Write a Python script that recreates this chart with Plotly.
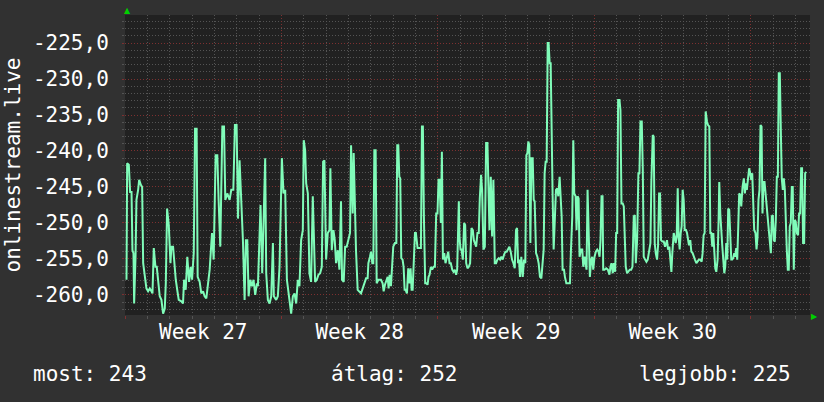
import pandas as pd
import plotly.graph_objects as go

# ---- data: ranking of onlinestream.live (hours since 2024-07-01 00:00, rank as negative value)
start = pd.Timestamp("2024-07-01 00:00")

hours_a = [1.6, 2.3, 4.1, 5.5, 7.0, 8.0, 9.1, 9.8, 11.3, 12.3, 14.1, 15.2, 17.0, 18.4, 19.5, 21.3, 23.0, 24.8, 26.6, 28.4,
           29.5, 30.9, 32.7, 34.1, 37.3, 39.1, 40.9, 42.7, 43.8, 45.2, 47.0, 48.8, 49.8, 51.6, 52.7, 54.5, 56.3, 57.7, 60.5, 62.3,
           63.4, 65.2, 66.9, 68.8, 70.5, 72.0, 73.8, 75.2, 76.9, 78.0, 80.2, 81.9, 83.8, 85.5, 87.3, 89.1, 90.9, 93.4, 95.2, 97.3,
           99.1, 100.5, 102.3, 104.5, 106.3, 107.7, 109.8, 112.3, 114.1, 116.3, 118.0, 119.8, 121.3, 123.0, 124.8, 126.6, 128.4, 129.8, 131.3, 132.7,
           134.5, 136.3, 138.0, 139.8, 141.6, 142.7, 145.5, 147.3, 149.1, 150.5, 151.6, 153.4, 155.2, 157.0, 158.8, 159.8, 162.3, 164.1, 165.9, 168.4,
           170.2, 172.0, 173.8, 175.5, 178.4, 180.2, 182.0, 183.8, 185.5, 187.3, 189.1, 190.9, 191.9, 193.4, 194.5, 196.3, 198.0, 199.8, 201.6, 202.7,
           204.1, 205.9, 207.7, 209.5, 211.3, 212.7, 214.1, 215.9, 217.7, 219.5, 220.5, 222.0, 223.8, 225.2, 226.6, 228.4, 230.2, 231.9, 233.0, 234.8,
           236.3, 238.0, 239.8, 241.6, 242.7, 244.5, 245.5, 246.9, 248.0, 249.8, 251.6, 253.4]
rank_a = [-257.9, -241.7, -241.9, -245.7, -245.7, -253.8, -254.2, -261.2, -254.7, -246.8, -245.4, -244.0, -244.7, -245.0, -255.6, -257.7, -259.1, -259.5, -259.1, -259.5,
          -259.8, -253.5, -256.1, -256.1, -260.2, -260.7, -262.6, -261.9, -258.4, -248.0, -250.3, -255.6, -253.3, -253.3, -255.6, -257.9, -259.5, -260.7, -260.9, -261.2,
          -257.9, -259.3, -254.7, -258.2, -256.1, -257.9, -254.2, -236.9, -236.9, -257.5, -258.2, -259.8, -259.5, -260.2, -260.5, -258.4, -256.5, -251.4, -255.1, -240.6,
          -240.6, -246.8, -253.3, -236.6, -236.6, -246.8, -245.9, -246.8, -245.4, -245.4, -236.4, -236.4, -249.4, -241.3, -246.8, -252.4, -260.7, -252.4, -252.4, -260.2,
          -257.9, -258.8, -257.9, -260.0, -258.4, -258.8, -247.5, -257.0, -248.2, -241.0, -257.0, -260.7, -261.2, -260.2, -252.8, -260.2, -260.7, -260.2, -256.1, -241.0,
          -245.9, -245.4, -257.9, -259.8, -262.6, -260.2, -259.8, -261.2, -257.9, -258.8, -252.4, -251.0, -238.5, -239.9, -244.5, -245.9, -257.0, -258.2, -246.3, -251.4,
          -258.2, -257.9, -257.2, -257.0, -256.1, -241.5, -241.3, -255.1, -251.4, -251.0, -242.4, -253.8, -251.0, -252.4, -255.6, -253.8, -256.5, -247.0, -257.9, -258.2,
          -253.3, -253.3, -252.4, -251.4, -239.2, -248.7, -240.3, -248.7, -253.8, -259.3, -259.5, -259.8]

hours_b = [257.0, 258.8, 260.5, 261.3, 263.0, 264.1, 265.5, 266.6, 267.7, 269.1, 270.2, 272.0, 273.8, 274.8, 276.6, 277.7, 279.1, 280.9, 282.0, 283.0,
           284.1, 285.5, 286.6, 288.0, 289.8, 291.3, 292.3, 293.4, 294.5, 295.5, 296.6, 298.0, 299.1, 300.2, 301.3, 302.7, 304.1, 305.5, 306.6, 307.7,
           308.8, 309.8, 311.3, 312.3, 314.1, 315.9, 317.7, 318.8, 319.8, 320.9, 322.3, 323.8, 324.8, 325.9, 327.0, 328.4, 329.8, 331.3, 332.7, 334.1,
           335.5, 336.6, 337.7, 339.1, 340.2, 341.3, 342.7, 344.1, 345.5, 347.0, 348.4, 349.8, 351.3, 352.7, 354.1, 355.5, 356.6, 357.7, 358.4, 359.1,
           360.2, 361.3, 362.7, 364.1, 365.2, 366.3, 367.7, 369.1, 370.5, 372.0, 373.4, 374.5, 375.9, 377.0, 378.4, 379.8, 380.9, 382.3, 383.4, 384.8,
           386.3, 387.7, 389.1, 390.2, 391.3, 392.7, 394.1, 395.5, 397.0, 398.4, 399.8, 401.3, 402.7, 404.1, 405.5, 407.0, 408.4, 409.8, 411.3, 412.7,
           414.1, 415.5, 417.0, 418.4, 419.8, 420.9, 422.0, 423.0, 424.1, 425.5, 427.0, 428.4, 429.8, 430.9, 432.0, 433.0, 434.1, 435.2, 436.3, 437.7,
           438.8, 439.8, 441.3, 442.7, 444.1, 445.5, 447.0, 448.4, 449.5, 450.5, 451.6, 452.7, 453.8, 454.8, 455.9, 457.0, 458.0, 459.1, 460.2, 461.3,
           462.7, 464.1, 465.2, 466.6, 467.7, 468.8, 469.8, 471.3, 472.3, 473.8, 475.2, 476.6, 477.7, 478.8, 480.2, 481.3, 482.3, 483.8, 484.8, 485.9,
           487.0, 488.0, 489.5, 490.9, 492.0, 493.4, 494.5, 495.5, 496.6, 497.7, 499.1, 500.5, 501.6, 502.7, 504.1, 505.5, 507.0, 508.4, 509.5, 510.5,
           511.6, 512.7]
rank_b = [-258.4, -257.7, -257.7, -255.6, -254.7, -254.0, -255.6, -255.6, -239.9, -239.9, -258.4, -257.9, -257.9, -257.9, -258.4, -259.5, -258.6, -257.9, -257.5, -259.1,
          -257.2, -258.8, -256.3, -253.3, -252.8, -252.8, -239.2, -239.2, -243.6, -243.8, -254.9, -255.1, -256.1, -259.3, -259.3, -259.8, -256.3, -258.4, -256.3, -259.3,
          -259.3, -254.7, -251.4, -251.4, -253.5, -253.5, -253.5, -236.6, -236.6, -249.1, -258.4, -258.4, -258.6, -257.5, -257.2, -256.1, -256.5, -256.1, -256.1, -248.7,
          -248.7, -244.0, -244.0, -250.0, -240.1, -255.1, -254.2, -255.6, -254.7, -254.0, -255.6, -255.6, -256.5, -256.8, -256.5, -257.2, -256.5, -251.0, -247.0, -251.9,
          -253.7, -253.7, -255.1, -250.0, -250.3, -255.6, -256.3, -256.1, -255.6, -250.7, -251.0, -252.4, -252.8, -253.3, -251.4, -251.4, -246.6, -243.3, -245.4, -253.7,
          -253.3, -238.9, -238.9, -247.3, -251.0, -243.6, -251.9, -244.0, -255.6, -255.6, -255.1, -254.9, -255.1, -254.7, -255.1, -254.4, -254.0, -254.0, -253.5, -253.3,
          -254.0, -255.1, -255.6, -256.3, -251.0, -250.7, -255.6, -255.1, -257.5, -254.7, -257.5, -255.1, -255.6, -240.6, -240.3, -238.7, -239.2, -252.8, -241.0, -241.0,
          -246.8, -247.0, -254.2, -254.7, -255.6, -257.5, -257.7, -255.6, -253.7, -243.1, -241.5, -241.5, -225.0, -225.0, -227.8, -227.8, -239.9, -246.3, -253.7, -249.1,
          -245.4, -245.2, -246.3, -243.6, -246.3, -249.1, -256.5, -256.5, -257.5, -258.4, -258.4, -258.4, -258.4, -253.7, -249.1, -238.5, -245.9, -246.3, -251.0, -246.3,
          -246.6, -254.7, -253.7, -253.7, -256.1, -254.7, -255.6, -256.5, -245.4, -250.0, -257.5, -255.1, -254.7, -256.5, -254.7, -254.0, -253.7, -254.0, -254.7, -252.4,
          -246.3, -246.3]

hours_c = [513.4, 514.8, 516.6, 518.4, 520.1, 521.2, 522.3, 523.7, 524.8, 526.2, 527.3, 528.4, 529.4, 530.9, 531.9, 533.0, 534.4, 535.5, 536.6, 537.6,
           539.1, 540.5, 541.9, 543.4, 544.8, 546.2, 547.3, 548.4, 549.8, 551.2, 552.3, 553.4, 554.8, 555.9, 556.9, 558.4, 559.8, 561.2, 562.6, 564.1,
           565.1, 566.6, 567.6, 568.7, 569.8, 571.2, 572.3, 573.4, 574.4, 575.5, 576.9, 578.4, 579.8, 580.9, 581.9, 583.0, 584.4, 585.5, 586.6, 587.6,
           589.1, 590.1, 591.2, 592.3, 593.4, 594.4, 595.5, 596.6, 597.6, 598.7, 599.8, 600.9, 602.3, 603.4, 604.4, 605.5, 606.9, 608.0, 609.4, 610.5,
           611.9, 613.4, 614.8, 616.2, 617.6, 619.1, 620.1, 621.2, 622.3, 623.4, 624.8, 625.9, 627.3, 628.4, 629.4, 630.5, 631.6, 632.6, 633.7, 634.8,
           636.2, 637.3, 638.0, 639.1, 640.1, 641.2, 642.3, 643.4, 644.4, 645.5, 646.6, 647.6, 648.7, 649.8, 650.9, 651.9, 653.0, 654.1, 655.1, 656.2,
           657.3, 658.4, 659.4, 660.5, 661.6, 663.0, 664.4, 665.5, 666.6, 667.6, 668.7, 670.1, 671.2, 672.3, 673.4, 674.4, 675.5, 676.9, 678.0, 679.1,
           680.1, 681.2, 682.3, 683.4, 684.4, 685.5, 686.6, 693.4, 694.4, 695.5, 696.6, 697.6, 698.7, 699.8, 700.9, 701.9, 703.0, 704.1, 705.1, 706.2,
           707.3, 708.4, 709.4, 710.5, 711.6, 712.6, 713.7, 714.8, 715.9, 716.9, 718.0, 719.1, 720.1, 721.2, 722.6, 723.7, 724.8, 725.9, 726.9, 728.0,
           729.1, 730.2, 731.3]
rank_c = [-256.5, -256.5, -256.3, -256.5, -257.2, -256.1, -255.6, -257.0, -255.6, -256.8, -251.4, -251.4, -232.9, -232.9, -234.3, -247.3, -247.3, -247.7, -251.4, -256.1,
          -257.0, -256.8, -256.5, -256.5, -256.1, -249.1, -248.9, -255.6, -252.4, -243.1, -243.1, -235.9, -235.9, -242.6, -254.7, -255.1, -255.4, -255.1, -254.2, -252.8,
          -244.3, -237.8, -238.0, -252.8, -254.2, -255.1, -253.1, -245.9, -245.9, -252.4, -252.6, -252.6, -253.3, -252.8, -252.4, -253.7, -253.3, -255.1, -256.8, -254.2,
          -251.4, -251.9, -252.8, -251.9, -245.2, -251.9, -253.7, -251.4, -250.5, -245.4, -246.8, -251.0, -251.0, -251.4, -252.4, -253.1, -252.4, -254.0, -254.2, -254.7,
          -255.1, -255.6, -255.4, -255.1, -255.1, -255.4, -254.2, -251.7, -251.4, -234.5, -235.9, -236.4, -236.6, -251.4, -251.4, -253.3, -251.4, -254.7, -256.3, -256.8,
          -255.1, -249.6, -244.3, -248.7, -251.4, -253.1, -255.1, -257.0, -256.1, -252.8, -255.1, -248.0, -248.2, -253.3, -255.1, -255.1, -254.9, -254.2, -254.7, -253.5,
          -255.1, -250.5, -245.9, -246.1, -247.7, -245.0, -243.8, -245.9, -244.5, -245.4, -243.8, -242.4, -243.1, -244.0, -243.1, -245.9, -251.0, -251.4, -253.7, -251.9,
          -246.8, -245.4, -236.4, -236.6, -248.7, -244.3, -244.3, -254.2, -249.1, -248.9, -252.4, -252.6, -249.6, -243.6, -243.6, -229.2, -229.2, -237.1, -243.8, -245.4,
          -243.8, -245.4, -251.4, -253.7, -256.5, -256.5, -250.5, -250.0, -245.0, -245.0, -256.5, -249.6, -249.8, -251.4, -251.7, -248.7, -248.7, -242.4, -242.4, -252.8,
          -252.8, -243.1, -242.9]

for h, r in ((hours_a, rank_a), (hours_b, rank_b), (hours_c, rank_c)):
    assert len(h) == len(r), (len(h), len(r))

hours = hours_a + hours_b + hours_c
rank = rank_a + rank_b + rank_c
times = start + pd.to_timedelta(hours, unit="h")

y_tick_values = [-260, -255, -250, -245, -240, -235, -230, -225]
y_tick_text = [f"{v:.1f}".replace(".", ",") for v in y_tick_values]
y_range = [-262.8, -221.1]
x_range = ["2024-07-01 00:00", "2024-07-31 15:25"]

series_name = "onlinestream.live"
summary_names = ["most", "átlag", "legjobb"]
summary_values = [243, 252, 225]

# ---- styling
FONT = "DejaVu Sans Mono"
BG = "#313131"
CANVAS = "#212121"
LINE = "#80fcb9"
MAJOR = "#7d3030"
MINOR = "#545454"
DOTS = "1px,2px"
ARROW = "#00d000"

fig = go.Figure()
fig.add_trace(go.Scatter(x=times, y=rank, mode="lines",
                         line=dict(color=LINE, width=2), hoverinfo="skip", showlegend=False))

fig.update_layout(
    width=824, height=402,
    margin=dict(l=123, r=14, t=15, b=87),
    paper_bgcolor=BG, plot_bgcolor=CANVAS,
    font=dict(family=FONT, size=21, color="#ffffff"),
    showlegend=False,
)

fig.update_xaxes(
    type="date", range=x_range,
    tick0="2024-07-01", dtick=7 * 86400000,
    tickformat="Week %V", ticklabelmode="period",
    ticks="outside", ticklen=3, tickcolor=MAJOR, ticklabelstandoff=-5,
    showgrid=True, gridcolor=MAJOR, griddash=DOTS, gridwidth=1,
    minor=dict(dtick=86400000, tick0="2024-07-01", showgrid=True, gridcolor=MINOR,
               griddash=DOTS, ticks="outside", ticklen=3, tickcolor=MINOR),
    tickfont=dict(family=FONT, size=21, color="#ffffff"),
    showline=False, zeroline=False, fixedrange=True,
)

fig.update_yaxes(
    range=y_range, tickmode="array", tickvals=y_tick_values, ticktext=y_tick_text,
    ticks="outside", ticklen=2, tickcolor=MAJOR, ticklabelstandoff=9,
    showgrid=True, gridcolor=MAJOR, griddash=DOTS, gridwidth=1,
    minor=dict(dtick=1, tick0=-260, showgrid=True, gridcolor=MINOR, griddash=DOTS,
               ticks="outside", ticklen=2, tickcolor=MINOR),
    tickfont=dict(family=FONT, size=21, color="#ffffff"),
    title=dict(text=series_name, font=dict(family=FONT, size=21, color="#ffffff"), standoff=6),
    showline=False, zeroline=False, fixedrange=True,
)

# summary line under the chart
summary_pos = [(-0.137, "left"), (0.393, "center"), (0.975, "right")]
for (name, val), (xp, anchor) in zip(zip(summary_names, summary_values), summary_pos):
    fig.add_annotation(text=f"{name}: {val}", x=xp, y=-0.197, xref="paper", yref="paper",
                       xanchor=anchor, yanchor="middle", showarrow=False,
                       font=dict(family=FONT, size=21, color="#ffffff"))

# axis arrows
fig.add_annotation(text="▲", x=0, y=1, xref="paper", yref="paper", xanchor="center", yanchor="bottom",
                   xshift=2, yshift=-2, showarrow=False, font=dict(family="DejaVu Sans", size=8, color=ARROW))
fig.add_annotation(text="▶", x=1, y=0, xref="paper", yref="paper", xanchor="left", yanchor="middle",
                   xshift=-1, yshift=-1, showarrow=False, font=dict(family="DejaVu Sans", size=8, color=ARROW))

fig.write_html("out.html", config={"displayModeBar": False})
